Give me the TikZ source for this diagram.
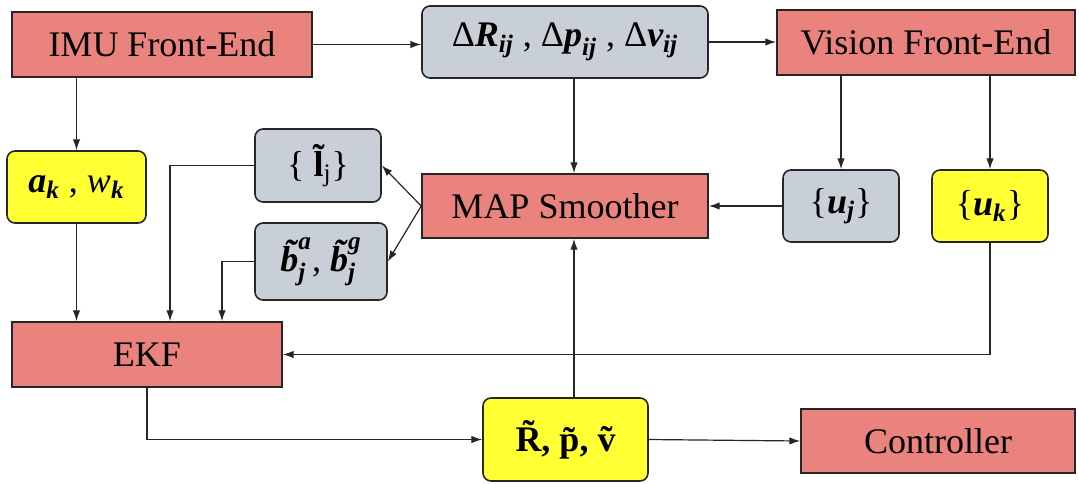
\documentclass[tikz,border=0pt]{standalone}
\usepackage{amsmath}
\usepackage{fontspec}
\setmainfont{Liberation Serif}
\newfontfamily\boxfont{Liberation Serif}
\usetikzlibrary{arrows.meta,positioning}
\definecolor{blockred}{RGB}{234,130,126}
\definecolor{blockgray}{RGB}{201,207,215}
\definecolor{blockyellow}{RGB}{255,255,51}
\newcommand{\sbi}[1]{\text{\boxfont\bfseries\itshape #1}}
\tikzset{
  red block/.style={draw=black!85,line width=0.8pt,fill=blockred,inner sep=0pt,font=\boxfont\fontsize{18}{20}\selectfont},
  gray block/.style={red block,fill=blockgray,rounded corners=4pt},
  yellow block/.style={gray block,fill=blockyellow},
  link/.style={-{Latex[length=1.9mm,width=1.3mm]},line width=0.6pt,black!85},
}

\begin{document}
\begin{tikzpicture}[x=0.5pt,y=-0.5pt]
  \useasboundingbox (0,0) rectangle (1079,483);
  % top row
  \node[red block,minimum width=150pt,minimum height=32.5pt] (imu) at (162,44.5) {IMU Front-End};
  \node[gray block,minimum width=143pt,minimum height=36pt] (delta) at (565,42)
    {$\text{Δ}\sbi{R}_{\sbi{ij}}\text{ , Δ}\sbi{p}_{\sbi{ij}}\text{ , Δ}\sbi{v}_{\sbi{ij}}$};
  \node[red block,minimum width=149pt,minimum height=32.5pt] (vision) at (926,42.5) {Vision Front-End};
  % middle
  \node[yellow block,minimum width=69.5pt,minimum height=36pt] (ak) at (76.5,187)
    {$\sbi{a}_{\sbi{k}}\text{ , }\text{\itshape w}_{\sbi{k}}$};
  \node[gray block,minimum width=63pt,minimum height=36.5pt] (lj) at (318,165.5)
    {$\text{\{ }\text{\bfseries\~{l}}_{\text{j}}\text{\}}$};
  \node[gray block,minimum width=66pt,minimum height=38.5pt] (bj) at (321,261.5)
    {$\sbi{\~{b}}_{\sbi{j}}^{\sbi{a}}\text{, }\sbi{\~{b}}_{\sbi{j}}^{\sbi{g}}$};
  \node[red block,minimum width=143pt,minimum height=32pt] (map) at (565,206) {MAP Smoother};
  \node[gray block,minimum width=58pt,minimum height=36pt] (uj) at (841,206)
    {$\text{\{}\sbi{u}_{\sbi{j}}\text{\}}$};
  \node[yellow block,minimum width=58pt,minimum height=36pt] (uk) at (990,206)
    {$\text{\{}\sbi{u}_{\sbi{k}}\text{\}}$};
  % bottom
  \node[red block,minimum width=135pt,minimum height=32.5pt] (ekf) at (147,354.5) {EKF};
  \node[yellow block,minimum width=82.5pt,minimum height=41.5pt] (rpv) at (565.5,439.5)
    {\bfseries\~{R}, \~{p}, \~{v}};
  \node[red block,minimum width=137pt,minimum height=32pt] (ctrl) at (938,441) {Controller};
  \coordinate (mapcol) at (574,0);
  \coordinate (ljdrop) at (170,0);
  \coordinate (bjdrop) at (222,0);
  % connectors
  \draw[link] (imu.east) -- (imu.east -| delta.west);
  \draw[link] (delta.east) -- (delta.east -| vision.west);
  \draw[link] (vision.south -| uj.north) -- (uj.north);
  \draw[link] (vision.south -| uk.north) -- (uk.north);
  \draw[link] (delta.south -| mapcol) -- (map.north -| mapcol);
  \draw[link] (uj.west) -- (map.east);
  \draw[link] (imu.south -| ak.north) -- (ak.north);
  \draw[link] (ak.south) -- (ak.south |- ekf.north);
  \draw[link] (map.west) -- (lj.east);
  \draw[link] (map.west) -- (bj.east);
  \draw[link] (lj.west) -| (ljdrop |- ekf.north);
  \draw[link] (bj.west) -| (bjdrop |- ekf.north);
  \draw[link] (uk.south) |- (ekf.east);
  \draw[link] (ekf.south) |- (rpv.west);
  \draw[link] (rpv.north -| mapcol) -- (map.south -| mapcol);
  \draw[link] (rpv.east) -- (ctrl.west);
\end{tikzpicture}
\end{document}
